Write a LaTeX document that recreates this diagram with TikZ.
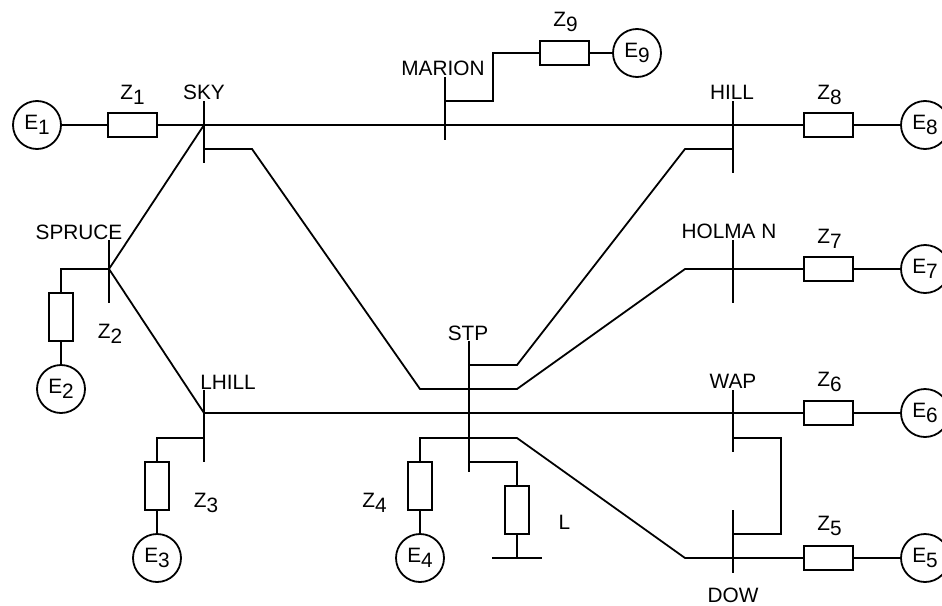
\documentclass[tikz,border=0pt]{standalone}
\usepackage{fontspec}
\setmainfont{Liberation Sans}
\usetikzlibrary{shapes}
\tikzstyle{src} = [circle, draw=black, minimum size=48pt, inner sep=0pt, line width=1.8pt]
\tikzstyle{imp} = [rectangle, draw=black, minimum width=49pt, minimum height=24pt, inner sep=0pt, line width=1.8pt]
\tikzstyle{vimp} = [rectangle, draw=black, minimum width=24pt, minimum height=48pt, inner sep=0pt, line width=1.8pt]
\tikzstyle{lbl} = [inner sep=0pt]
\tikzstyle{bus} = [line width=1.8pt]
\tikzstyle{wire} = [line width=1.8pt]
\newcommand{\low}[1]{\raisebox{-0.24em}{#1}}

\begin{document}
\begin{tikzpicture}[x=1pt,y=-1pt,font=\fontsize{20.8}{24}\selectfont]
                        \useasboundingbox (0,0) rectangle (942,605);
                        % buses
                        \draw[bus] (204,101) -- (204,163);
                        \draw[bus] (445,77) -- (445,140);
                        \draw[bus] (733,101) -- (733,173);
                        \draw[bus] (109,240) -- (109,303);
                        \draw[bus] (733,240) -- (733,303);
                        \draw[bus] (469,341) -- (469,472);
                        \draw[bus] (204,390) -- (204,462);
                        \draw[bus] (733,390) -- (733,452);
                        \draw[bus] (733,510) -- (733,573);
                        \coordinate (sky) at (204,125);
                        \coordinate (skyb) at (204,149);
                        \coordinate (marion) at (445,125);
                        \coordinate (marionb) at (445,101);
                        \coordinate (hill) at (733,125);
                        \coordinate (hillb) at (733,149);
                        \coordinate (spruce) at (109,269);
                        \coordinate (holman) at (733,269);
                        \coordinate (stpa) at (469,365);
                        \coordinate (stpc) at (469,462);
                        \coordinate (lhill) at (204,413);
                        \coordinate (lhillb) at (204,438);
                        \coordinate (wap) at (733,413);
                        \coordinate (wapb) at (733,438);
                        \coordinate (dow) at (733,558);
                        \coordinate (dowb) at (733,534);
                        \coordinate (gnd) at (517,558);
                        % bus names
                        \node[lbl] (skyl) at (204,92) {SKY};
                        \node[lbl] (marionl) at (443,68) {MARION};
                        \node[lbl] (hilll) at (732,92) {HILL};
                        \node[lbl] (sprucel) at (79,232) {SPRUCE};
                        \node[lbl] (holmanl) at (729,231) {HOLMA N};
                        \node[lbl] (stpl) at (468,333) {STP};
                        \node[lbl] (lhilll) at (228,382) {LHILL};
                        \node[lbl] (wapl) at (733,381) {WAP};
                        \node[lbl] (dowl) at (733,595) {DOW};
                        % sources
                        \node[src] (e1) at (37,125) {E\low{1}};
                        \node[src] (e2) at (61,389) {E\low{2}};
                        \node[src] (e3) at (157,558) {E\low{3}};
                        \node[src] (e4) at (420,558) {E\low{4}};
                        \node[src] (e5) at (925,558) {E\low{5}};
                        \node[src] (e6) at (925,413) {E\low{6}};
                        \node[src] (e7) at (925,269) {E\low{7}};
                        \node[src] (e8) at (925,125) {E\low{8}};
                        \node[src] (e9) at (637,53) {E\low{9}};
                        % impedances
                        \node[imp] (z1) at (132.5,125) {};
                        \node[imp] (z8) at (828.5,125) {};
                        \node[imp] (z7) at (828.5,269) {};
                        \node[imp] (z6) at (828.5,413) {};
                        \node[imp] (z5) at (828.5,558) {};
                        \node[imp] (z9) at (564.5,53) {};
                        \node[vimp] (z2) at (61,317) {};
                        \node[vimp] (z3) at (157,486) {};
                        \node[vimp] (z4) at (420,486) {};
                        \node[vimp] (lload) at (517,510) {};
                        \node[lbl] (z1l) at (132.5,95) {Z\low{1}};
                        \node[lbl] (z8l) at (829.5,95) {Z\low{8}};
                        \node[lbl] (z7l) at (829.5,239) {Z\low{7}};
                        \node[lbl] (z6l) at (829.5,382) {Z\low{6}};
                        \node[lbl] (z5l) at (829.5,526) {Z\low{5}};
                        \node[lbl] (z9l) at (565.5,22) {Z\low{9}};
                        \node[lbl] (z2l) at (110,334) {Z\low{2}};
                        \node[lbl] (z3l) at (206,503) {Z\low{3}};
                        \node[lbl] (z4l) at (374.5,503) {Z\low{4}};
                        \node[lbl] (ll) at (564.5,522.5) {L};
                        % lines
                        \draw[wire] (e1) -- (z1) -- (sky) -- (marion) -- (hill) -- (z8) -- (e8);
                        \draw[wire] (marionb) -- ++(48,0) |- (z9) -- (e9);
                        \draw[wire] (skyb) -- ++(48,0) -- (420,389) -- (517,389) -- (685,269) -- (holman) -- (z7) -- (e7);
                        \draw[wire] (stpa) -- ++(48,0) -- (685,149) -- (hillb);
                        \draw[wire] (sky) -- (spruce) -- (lhill);
                        \draw[wire] (spruce) -| (z2) -- (e2);
                        \draw[wire] (lhill) -- (wap) -- (z6) -- (e6);
                        \draw[wire] (lhillb) -| (z3) -- (e3);
                        \draw[wire] (z4) |- (517,438) -- (685,558) -- (dow) -- (z5) -- (e5);
                        \draw[wire] (z4) -- (e4);
                        \draw[wire] (stpc) -| (lload) -- (gnd);
                        \draw[wire] (gnd) ++(-25,0) -- ++(50,0);
                        \draw[wire] (wapb) -- ++(48,0) |- (dowb);
                    \end{tikzpicture}
\end{document}
